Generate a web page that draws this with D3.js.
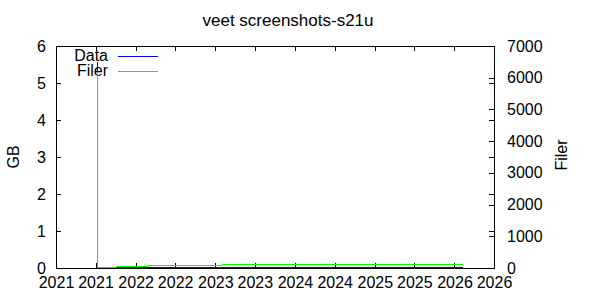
<!DOCTYPE html>
<html>
<head>
<meta charset="utf-8">
<script src="https://cdn.jsdelivr.net/npm/d3@7"></script>
<style>
  body { margin: 0; background: #fff; }
  svg { display: block; font-family: "Liberation Sans", Arial, sans-serif; }
</style>
</head>
<body>
<svg id="chart" width="600" height="300"></svg>
<script>
// snapshot dates, size in GB, number of files
const dates = ["2021-07-07", "2021-07-08", "2021-10-07", "2022-02-27", "2023-02-05", "2026-02-10"];
const dataGB = [5.55, 0.012, 0.014, 0.015, 0.016, 0.016];
const files = [6150, 16, 47, 79, 110, 110];
const gbTicks = [0, 1, 2, 3, 4, 5, 6];
const fileTicks = [0, 1000, 2000, 3000, 4000, 5000, 6000, 7000];

const parse = d3.timeParse("%Y-%m-%d");
const rows = dates.map((d, i) => ({ t: parse(d), gb: dataGB[i], n: files[i] }));

const svg = d3.select("#chart");
const plotL = 56, plotR = 494, plotT = 46, plotB = 268;

const x = d3.scaleTime()
  .domain([new Date(2021, 0, 1), new Date(2026, 6, 1)])
  .range([plotL, plotR]);
const y = d3.scaleLinear().domain([0, 6]).range([plotB, plotT]);
const y2 = d3.scaleLinear().domain([0, 7000]).range([plotB, plotT]);

const fontSize = "16px";

// title
svg.append("text")
  .attr("x", 288).attr("y", 26)
  .attr("text-anchor", "middle")
  .style("font-size", "17px")
  .text("veet screenshots-s21u");

// frame
svg.append("rect")
  .attr("x", plotL + 0.5).attr("y", plotT + 0.5)
  .attr("width", plotR - plotL).attr("height", plotB - plotT)
  .attr("fill", "none").attr("stroke", "#000").attr("stroke-width", 1);

// x axis bottom + mirrored top
const xTicks = d3.timeMonth.every(6).range(new Date(2021, 0, 1), new Date(2026, 6, 2));
svg.append("g")
  .attr("transform", `translate(0,${plotB})`)
  .call(d3.axisBottom(x).tickValues(xTicks).tickFormat(d3.timeFormat("%Y")).tickSizeInner(-5).tickSizeOuter(0).tickPadding(9))
  .call(g => g.select(".domain").remove())
  .call(g => g.selectAll("text").style("font-size", fontSize).attr("fill", "#000"));
svg.append("g")
  .attr("transform", `translate(0,${plotT})`)
  .call(d3.axisTop(x).tickValues(xTicks).tickFormat("").tickSizeInner(-5).tickSizeOuter(0))
  .call(g => g.select(".domain").remove());

// left axis + mirror on right
svg.append("g")
  .attr("transform", `translate(${plotL},0)`)
  .call(d3.axisLeft(y).tickValues(gbTicks).tickFormat(d3.format("d")).tickSizeInner(-5).tickSizeOuter(0).tickPadding(10))
  .call(g => g.select(".domain").remove())
  .call(g => g.selectAll("text").style("font-size", fontSize).attr("fill", "#000"));
svg.append("g")
  .attr("transform", `translate(${plotR},0)`)
  .call(d3.axisRight(y).tickValues(gbTicks).tickFormat("").tickSizeInner(-5).tickSizeOuter(0))
  .call(g => g.select(".domain").remove());

// right axis (files)
svg.append("g")
  .attr("transform", `translate(${plotR},0)`)
  .call(d3.axisRight(y2).tickValues(fileTicks).tickFormat(d3.format("d")).tickSizeInner(-5).tickSizeOuter(0).tickPadding(13))
  .call(g => g.select(".domain").remove())
  .call(g => g.selectAll("text").style("font-size", fontSize).attr("fill", "#000"));

svg.selectAll("g").attr("font-family", null);
svg.selectAll(".tick line").attr("stroke", "#000").attr("shape-rendering", "crispEdges");

// axis titles
svg.append("text")
  .attr("transform", "translate(19,157) rotate(-90)")
  .attr("text-anchor", "middle")
  .style("font-size", fontSize)
  .text("GB");
svg.append("text")
  .attr("transform", "translate(567,155) rotate(-90)")
  .attr("text-anchor", "middle")
  .style("font-size", fontSize)
  .text("Filer");

// legend
const legend = [
  { name: "Data", color: "#0000ff" },
  { name: "Filer", color: "#00ff00" }
];
legend.forEach((d, i) => {
  const ly = 56 + i * 15;
  svg.append("text")
    .attr("x", 108).attr("y", ly + 5)
    .attr("text-anchor", "end")
    .style("font-size", fontSize)
    .text(d.name);
  svg.append("line")
    .attr("x1", 118).attr("x2", 158).attr("y1", ly + 0.5).attr("y2", ly + 0.5)
    .attr("stroke", d.color).attr("stroke-width", 1);
});

// series
const lineGB = d3.line().x(d => x(d.t)).y(d => y(d.gb)).curve(d3.curveStepAfter);
const lineN = d3.line().x(d => x(d.t)).y(d => y2(d.n)).curve(d3.curveStepAfter);

svg.append("path").datum(rows)
  .attr("d", lineGB).attr("fill", "none").attr("stroke", "#0000ff").attr("stroke-width", 1)
  .attr("shape-rendering", "crispEdges");
svg.append("path").datum(rows)
  .attr("d", lineN).attr("fill", "none").attr("stroke", "#00ff00").attr("stroke-width", 1)
  .attr("shape-rendering", "crispEdges");
</script>
</body>
</html>
